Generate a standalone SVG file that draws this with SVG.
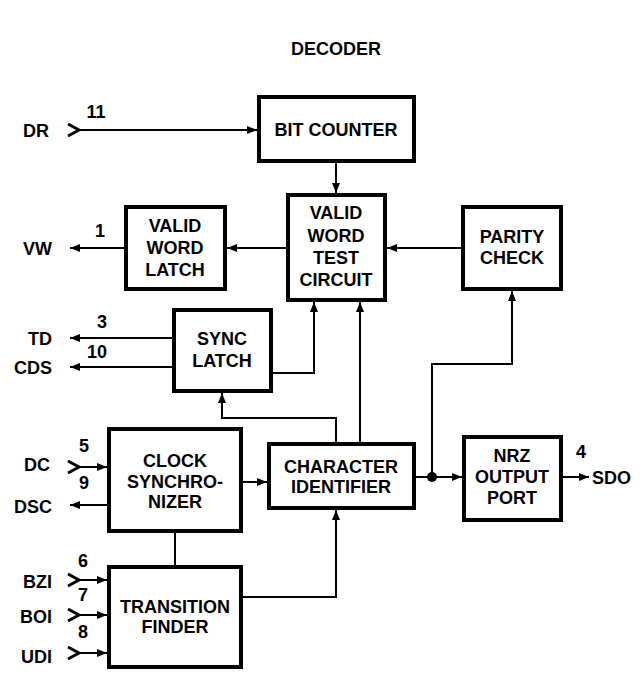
<svg xmlns="http://www.w3.org/2000/svg" width="644" height="673" viewBox="0 0 644 673">
<defs>
<style>
.box{fill:#fff;stroke:#000;stroke-width:4}
.ln{fill:none;stroke:#000;stroke-width:2}
.arr{fill:none;stroke:#000;stroke-width:2;marker-end:url(#ah)}
.chev{fill:none;stroke:#000;stroke-width:3}
text{font-family:"Liberation Sans",Arial,sans-serif;font-weight:bold;font-size:18px;fill:#000}
.c{text-anchor:middle}
.r{text-anchor:end}
</style>
<marker id="ah" markerUnits="userSpaceOnUse" markerWidth="10" markerHeight="8" refX="10" refY="4" orient="auto">
<path d="M0,0 L10,4 L0,8 z" fill="#000"/>
</marker>
</defs>
<rect width="644" height="673" fill="#fff"/>
<text class="c" x="336" y="55">DECODER</text>

<g id="connectors">
<path class="chev" d="M68,124 L79,130 L68,136"/>
<path class="arr" d="M78,130 H257"/>
<path class="arr" d="M336,163 V193"/>
<path class="arr" d="M286,248 H227"/>
<path class="arr" d="M124,248 H70"/>
<path class="arr" d="M461,248 H387"/>
<path class="arr" d="M172,338 H70"/>
<path class="arr" d="M172,367 H70"/>
<path class="arr" d="M273,373 H314 V302"/>
<path class="arr" d="M336,442 V418 H222 V393"/>
<path class="arr" d="M360,442 V302"/>
<path class="arr" d="M243,482 H267"/>
<path class="chev" d="M68,461 L79,467 L68,473"/>
<path class="arr" d="M78,467 H107"/>
<path class="arr" d="M107,505 H70"/>
<path class="ln" d="M175,533 V565"/>
<path class="chev" d="M68,574 L79,580 L68,586"/>
<path class="arr" d="M78,580 H107"/>
<path class="chev" d="M68,609 L79,615 L68,621"/>
<path class="arr" d="M78,615 H107"/>
<path class="chev" d="M68,647 L79,653 L68,659"/>
<path class="arr" d="M78,653 H107"/>
<path class="arr" d="M243,597 H336 V510"/>
<path class="arr" d="M416,477 H462"/>
<circle cx="432" cy="477" r="5" fill="#000"/>
<path class="arr" d="M432,477 V364 H512 V291"/>
<path class="arr" d="M563,477 H589"/>
</g>

<g id="labels">
<text class="r" x="49" y="137">DR</text>
<text class="c" x="96" y="118">11</text>
<text class="r" x="52" y="255">VW</text>
<text class="c" x="100" y="237">1</text>
<text class="r" x="52" y="345">TD</text>
<text class="c" x="102" y="328">3</text>
<text class="r" x="52" y="374">CDS</text>
<text class="c" x="97" y="358">10</text>
<text class="r" x="50" y="471">DC</text>
<text class="c" x="84" y="452">5</text>
<text class="c" x="84" y="489">9</text>
<text class="r" x="52" y="513">DSC</text>
<text class="c" x="83" y="567">6</text>
<text class="r" x="52" y="588">BZI</text>
<text class="c" x="83" y="601">7</text>
<text class="r" x="52" y="623">BOI</text>
<text class="c" x="83" y="638">8</text>
<text class="r" x="52" y="663">UDI</text>
<text class="c" x="581" y="458">4</text>
<text x="592" y="484">SDO</text>
</g>

<g id="bit-counter">
<rect class="box" x="259" y="97" width="155" height="64"/>
<text class="c" x="336" y="136">BIT COUNTER</text>
</g>
<g id="valid-word-test-circuit">
<rect class="box" x="288" y="195" width="97" height="105"/>
<text class="c" x="336" y="219">VALID</text>
<text class="c" x="336" y="242">WORD</text>
<text class="c" x="336" y="264">TEST</text>
<text class="c" x="336" y="286">CIRCUIT</text>
</g>
<g id="valid-word-latch">
<rect class="box" x="126" y="207" width="99" height="82"/>
<text class="c" x="175" y="232">VALID</text>
<text class="c" x="175" y="254">WORD</text>
<text class="c" x="175" y="276">LATCH</text>
</g>
<g id="parity-check">
<rect class="box" x="463" y="207" width="98" height="82"/>
<text class="c" x="512" y="243">PARITY</text>
<text class="c" x="512" y="264">CHECK</text>
</g>
<g id="sync-latch">
<rect class="box" x="174" y="310" width="97" height="81"/>
<text class="c" x="222" y="345">SYNC</text>
<text class="c" x="222" y="367">LATCH</text>
</g>
<g id="clock-synchronizer">
<rect class="box" x="109" y="429" width="132" height="102"/>
<text class="c" x="175" y="467">CLOCK</text>
<text class="c" x="175" y="488">SYNCHRO-</text>
<text class="c" x="175" y="508">NIZER</text>
</g>
<g id="character-identifier">
<rect class="box" x="269" y="444" width="145" height="64"/>
<text class="c" x="341" y="473">CHARACTER</text>
<text class="c" x="341" y="493">IDENTIFIER</text>
</g>
<g id="transition-finder">
<rect class="box" x="109" y="567" width="132" height="100"/>
<text class="c" x="175" y="613">TRANSITION</text>
<text class="c" x="175" y="633">FINDER</text>
</g>
<g id="nrz-output-port">
<rect class="box" x="464" y="437" width="97" height="83"/>
<text class="c" x="512" y="462">NRZ</text>
<text class="c" x="512" y="483">OUTPUT</text>
<text class="c" x="512" y="504">PORT</text>
</g>
</svg>
